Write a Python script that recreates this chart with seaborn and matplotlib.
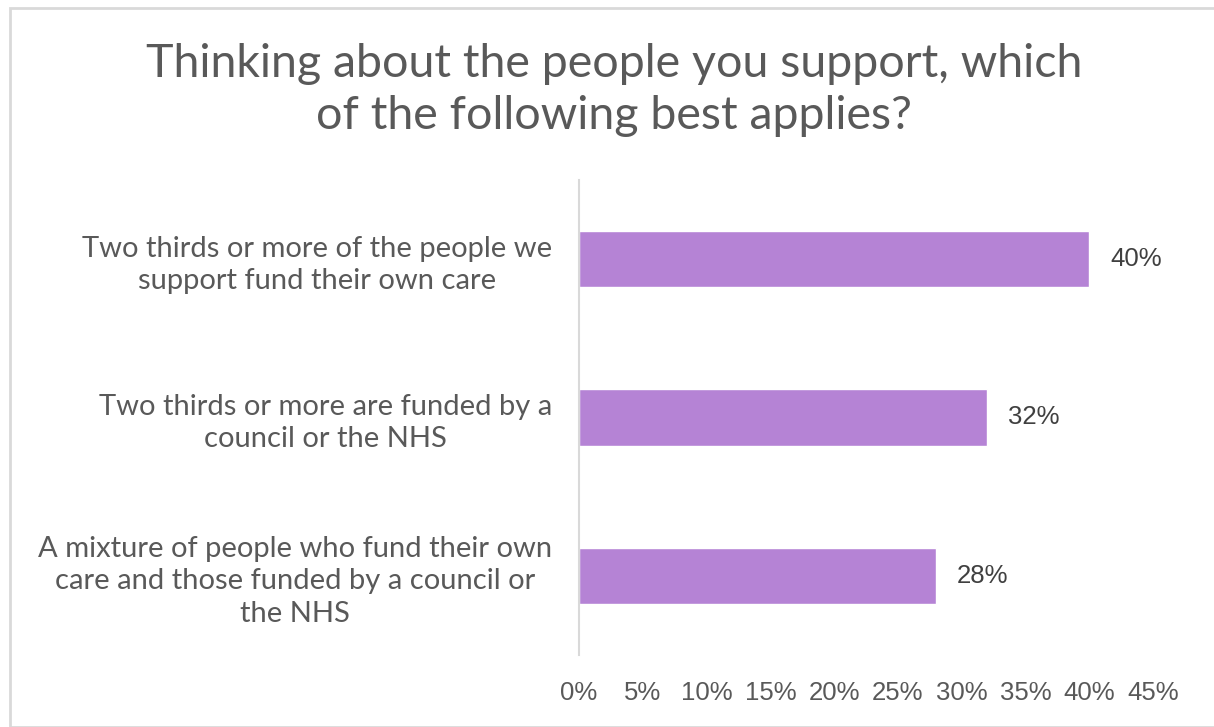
import matplotlib
matplotlib.use("Agg")
import matplotlib.pyplot as plt
import seaborn as sns
import pandas as pd
from matplotlib.patches import Rectangle
from matplotlib.transforms import ScaledTranslation

categories = [
    "Two thirds or more of the people we\nsupport fund their own care",
    "Two thirds or more are funded by a\ncouncil or the NHS",
    "A mixture of people who fund their own\ncare and those funded by a council or\nthe NHS",
]
values = [40, 32, 28]
xticks = [0, 5, 10, 15, 20, 25, 30, 35, 40, 45]
title = "Thinking about the people you support, which\nof the following best applies?"

sns.set_theme(style="white")
plt.rcParams['font.family'] = ['Lato', 'DejaVu Sans']

df = pd.DataFrame({"cat": categories, "val": values})

fig = plt.figure(figsize=(12.14, 7.27), dpi=100)
ax = fig.add_axes([579/1214, 1-655/727, (1153-579)/1214, (655-180)/727])

sns.barplot(data=df, x="val", y="cat", color="#B583D5", saturation=1, width=0.355, ax=ax, orient="h")

narrow = ['Liberation Sans Narrow', 'Liberation Sans', 'DejaVu Sans']
ax.set_xlim(0, 45)
ax.set_ylim(2.5, -0.5)
ax.set_xticks(xticks)
ax.set_xticklabels([f"{t}%" for t in xticks], fontsize=18.5, color="#595959", family=narrow)
ax.tick_params(axis='x', length=0, pad=19)
ax.tick_params(axis='y', length=0, pad=0)
ax.set_yticks(range(len(categories)))
ax.set_yticklabels(categories, fontsize=21, color="#595959", linespacing=1.3)
for lab in ax.get_yticklabels():
    lab.set_horizontalalignment("right")
    lab.set_multialignment("center")
    lab.set_transform(lab.get_transform() + ScaledTranslation(-(579-552)/100, 0, fig.dpi_scale_trans))

ax.set_xlabel("")
ax.set_ylabel("")
for s in ["top", "right", "bottom"]:
    ax.spines[s].set_visible(False)
ax.spines["left"].set_color("#D9D9D9")
ax.spines["left"].set_linewidth(1.5)

for i, v in enumerate(values):
    ax.text(v + 1.65, i, f"{v}%", va="center", ha="left", fontsize=18.5, color="#404040", family=narrow)

fig.text(614/1214, 1 - 90/727, title, ha="center", va="center",
         fontsize=33.5, color="#595959", linespacing=1.3)

fig.patches.append(Rectangle((10/1214, 0), 1.2, 1 - 8/727, transform=fig.transFigure,
                             fill=False, edgecolor="#D9D9D9", linewidth=2))

fig.savefig("out.png", dpi=100)
